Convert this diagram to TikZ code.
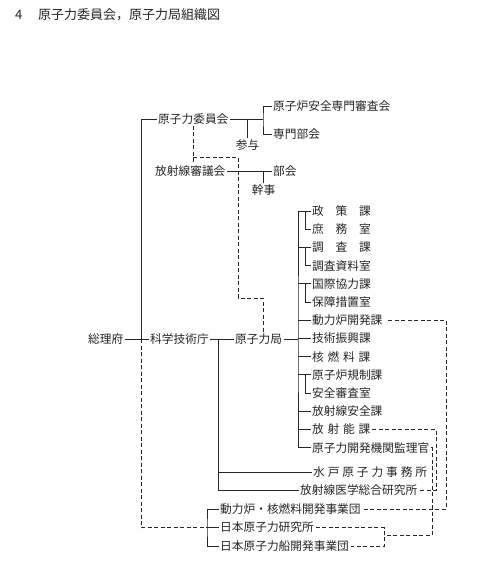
\documentclass[tikz,border=0pt]{standalone}
\usepackage{fontspec}
\newfontfamily\jp{Noto Sans CJK JP}
\definecolor{ink}{gray}{0.15}
\newcommand{\gp}{\hspace{3.8pt}}
\newcommand{\gq}{\hspace{2.9pt}}
\begin{document}
\begin{tikzpicture}[x=1pt,y=1pt,
  lbl/.style={font=\jp\fontsize{11.7}{13}\selectfont, text=ink, inner xsep=1.5pt, inner ysep=1pt, anchor=west},
  ctr/.style={lbl, anchor=center},
  ln/.style={draw=ink, line width=0.8pt},
  dsh/.style={ln, dash pattern=on 4pt off 2.5pt}]
\useasboundingbox[fill=white] (0,0) rectangle (477,-566);
% title
\node[lbl, font=\jp\fontsize{13}{15}\selectfont] (num) at (13.5,-15) {4};
\node[lbl, font=\jp\fontsize{13}{15}\selectfont] (title) at (36.5,-15) {原子力委員会，原子力局組織図};
% left part
\node[lbl] (sori) at (86.5,-339) {総理府};
\node[lbl] (kagaku) at (148.5,-339) {科学技術庁};
\node[lbl] (kyoku) at (233.5,-339) {原子力局};
\node[lbl] (iinkai) at (156.5,-119) {原子力委員会};
\node[ctr] (sanyo) at (247.5,-145) {参与};
\node[lbl] (shinsa) at (271.5,-106) {原子炉安全専門審査会};
\node[lbl] (senmon) at (271.5,-134) {専門部会};
\node[lbl] (hoshin) at (153.5,-171) {放射線審議会};
\node[lbl] (bukai) at (271.5,-171) {部会};
\node[ctr] (kanji) at (263.5,-190) {幹事};
% items of the bureau
\node[lbl] (i0) at (310.5,-211) {政　策　課};
\node[lbl] (i1) at (310.5,-229.2) {庶　務　室};
\node[lbl] (i2) at (310.5,-247.4) {調　査　課};
\node[lbl] (i3) at (310.5,-265.6) {調査資料室};
\node[lbl] (i4) at (310.5,-283.8) {国際協力課};
\node[lbl] (i5) at (310.5,-302) {保障措置室};
\node[lbl] (i6) at (310.5,-320.2) {動力炉開発課};
\node[lbl] (i7) at (310.5,-338.4) {技術振興課};
\node[lbl] (i8) at (310.5,-356.6) {核\gp 燃\gp 料\gp 課};
\node[lbl] (i9) at (310.5,-374.8) {原子炉規制課};
\node[lbl] (i10) at (310.5,-393) {安全審査室};
\node[lbl] (i11) at (310.5,-411.2) {放射線安全課};
\node[lbl] (i12) at (310.5,-429.4) {放\gp 射\gp 能\gp 課};
\node[lbl] (i13) at (310.5,-447.6) {原子力開発機関監理官};
% lower institutions
\node[lbl] (mito) at (311.5,-472) {水\gq 戸\gq 原\gq 子\gq 力\gq 事\gq 務\gq 所};
\node[lbl] (hoi) at (298.5,-490) {放射線医学総合研究所};
\node[lbl] (doryoku) at (218.5,-509) {動力炉・核燃料開発事業団};
\node[lbl] (genken) at (218.5,-527.5) {日本原子力研究所};
\node[lbl] (fune) at (218.5,-546) {日本原子力船開発事業団};
% helper coordinates
\coordinate (vL) at (141,-339);
\coordinate (vK) at (218,-339);
\coordinate (tr) at (298,-339);
\coordinate (sub) at (305.5,0);
\coordinate (bA) at (263,-119);
\coordinate (bkt) at (207,-527.5);
\coordinate (dAy) at (0,-157);
\coordinate (dB) at (238,-298);
\coordinate (dC) at (263,-298);
\coordinate (rA) at (446,-509);
\coordinate (rB) at (436,-490);
\coordinate (rC) at (432,-535);
\coordinate (rD) at (384,-535);
% solid connectors
\draw[ln] (sori.east) -- (kagaku.west);
\draw[ln] (iinkai.west) -| (vL);
\draw[ln] (doryoku.west) -| (bkt) |- (fune.west);
\draw[ln] (bkt) -- (genken.west);
\draw[ln] (kagaku.east) -- (kyoku.west);
\draw[ln] (vK) |- (hoi.west);
\draw[ln] (vK |- mito.west) -- (mito.west);
\draw[ln] (kyoku.east) -- (tr);
\draw[ln] (i0.west) -| (tr) |- (i13.west);
\foreach \k in {2,4,6,7,8,9,11,12} \draw[ln] (i\k.west) -- (i\k.west -| tr);
\foreach \a/\b in {0/1,2/3,4/5,9/10} \draw[ln] (i\a.west -| sub) |- (i\b.west);
\draw[ln] (iinkai.east) -- (bA);
\draw[ln] (shinsa.west) -| (bA) |- (senmon.west);
\draw[ln] (sanyo.north) -- (sanyo.north |- iinkai.east);
\draw[ln] (hoshin.east) -- (bukai.west);
\draw[ln] (kanji.north) -- (kanji.north |- hoshin.east);
% dashed connectors
\draw[dsh] (vL) |- (bkt);
\draw[dsh] (iinkai.south) -- (iinkai.south |- hoshin.north);
\draw[dsh] (iinkai.south |- dAy) -| (dB) -- (dC) -- (dC |- kyoku.north);
\draw[dsh, shorten <=4pt] (i6.east) -| (rA) -- (doryoku.east);
\draw[dsh] (i12.east) -| (rB) -- (hoi.east);
\draw[dsh] (i13.east) -| (rC) -- (rD);
\draw[dsh] (genken.east) -| (rD) |- (fune.east);
\end{tikzpicture}
\end{document}
